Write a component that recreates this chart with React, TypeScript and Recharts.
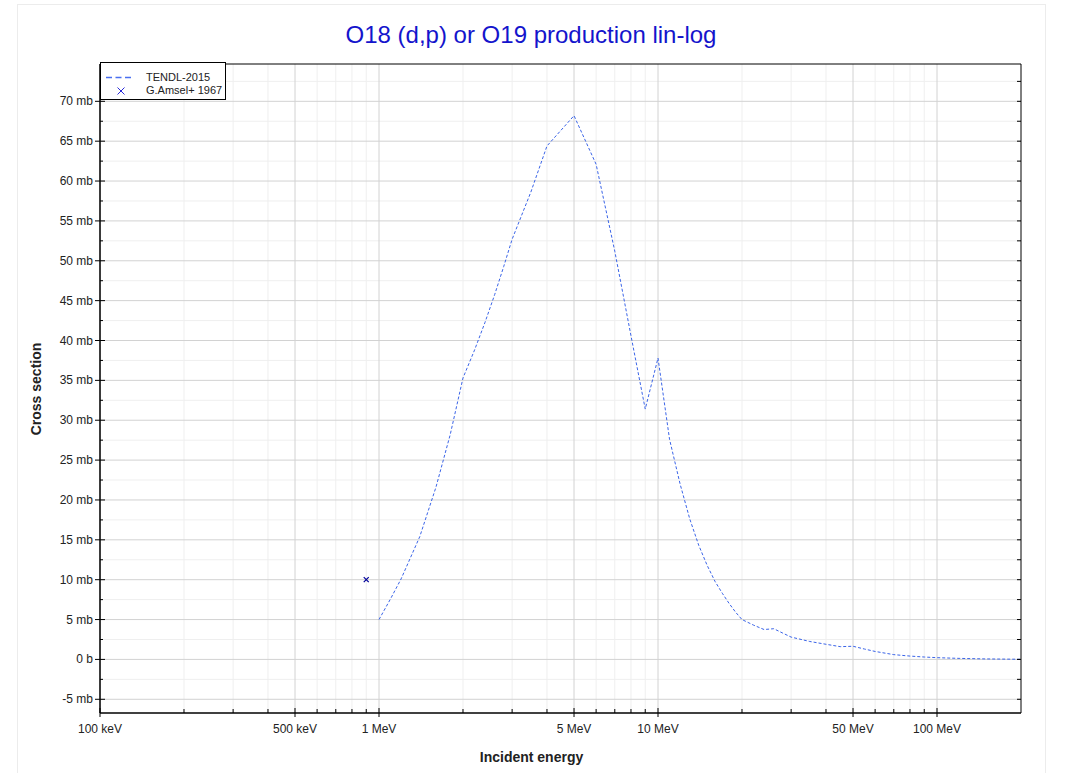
import React from 'react'
import {
  ComposedChart,
  Line,
  XAxis,
  YAxis,
  CartesianGrid,
} from 'recharts'

// TENDL-2015 evaluation, energy in MeV, cross section in mb
const tendlEnergy = [
  1, 1.1, 1.2, 1.4, 1.6, 1.8, 2, 2.2, 2.4, 2.6, 2.8, 3, 3.5, 4, 5, 6, 7, 8, 9, 10,
  11, 12, 13, 14, 15, 16, 17, 18, 19, 20, 22, 24, 26, 28, 30, 35, 40, 45, 50, 55,
  60, 70, 80, 90, 100, 120, 150, 200,
]
const tendlXs = [
  5.0, 7.6, 10.1, 15.4, 21.6, 28.2, 35.3, 38.8, 42.3, 45.8, 49.3, 52.7, 58.6, 64.4, 68.2, 62.1, 51.2, 40.6, 31.4, 37.8,
  27.6, 22.0, 17.6, 14.3, 11.8, 9.8, 8.3, 7.0, 5.9, 5.0, 4.3, 3.75, 3.85, 3.3, 2.8, 2.25, 1.9, 1.6, 1.65, 1.3,
  1.0, 0.6, 0.42, 0.3, 0.22, 0.13, 0.06, 0.02,
]

// G.Amsel+ 1967 measurement
const amselEnergy = [0.9]
const amselXs = [10]

// axis ticks
const xMajor = [0.1, 0.5, 1, 5, 10, 50, 100]
const xMajorLabels = ['100 keV', '500 keV', '1 MeV', '5 MeV', '10 MeV', '50 MeV', '100 MeV']
const xMinor = [0.2, 0.3, 0.4, 0.6, 0.7, 0.8, 0.9, 2, 3, 4, 6, 7, 8, 9, 20, 30, 40, 60, 70, 80, 90]
const yMajor = [-5, 0, 5, 10, 15, 20, 25, 30, 35, 40, 45, 50, 55, 60, 65, 70]
const yMinor = [-2.5, 2.5, 7.5, 12.5, 17.5, 22.5, 27.5, 32.5, 37.5, 42.5, 47.5, 52.5, 57.5, 62.5, 67.5, 72.5]

const xDomain = [0.1, 200]
const yDomain = [-6.72, 74.68]

const tendl = tendlEnergy.map((e, i) => ({ e, xs: tendlXs[i] }))
const amsel = amselEnergy.map((e, i) => ({ e, xs: amselXs[i] }))

const xTicks = [...xMajor, ...xMinor].sort((a, b) => a - b)
const yTicks = [...yMajor, ...yMinor].sort((a, b) => a - b)

const FONT = '"Liberation Sans", Arial, sans-serif'
const TEXT = '#222'

function yLabel(v: number) {
  if (v === 0) return '0 b'
  return `${v} mb`
}

const BottomTick = (props: any) => {
  const { x, y, payload } = props
  const idx = xMajor.indexOf(payload.value)
  const major = idx >= 0
  return (
    <g>
      <line x1={x} x2={x} y1={y - (major ? 5 : 4)} y2={major ? y + 4 : y} stroke="#000" />
      {major && (
        <text x={x} y={y + 20} textAnchor="middle" fontSize={12} fill={TEXT} fontFamily={FONT}>
          {xMajorLabels[idx]}
        </text>
      )}
    </g>
  )
}

const TopTick = (props: any) => {
  const { x, y } = props
  return <line x1={x} x2={x} y1={y} y2={y + 5} stroke="#000" />
}

const LeftTick = (props: any) => {
  const { x, y, payload } = props
  const major = yMajor.includes(payload.value)
  return (
    <g>
      <line x1={major ? x - 5 : x} x2={major ? x + 5 : x + 3} y1={y} y2={y} stroke="#000" />
      {major && (
        <text x={x - 7} y={y + 4} textAnchor="end" fontSize={12} fill={TEXT} fontFamily={FONT}>
          {yLabel(payload.value)}
        </text>
      )}
    </g>
  )
}

const RightTick = (props: any) => {
  const { x, y } = props
  return <line x1={x - 4} x2={x} y1={y} y2={y} stroke="#000" />
}

const Cross = (props: any) => {
  const { cx, cy } = props
  if (cx == null || cy == null) return null
  const s = 2.5
  return (
    <path
      d={`M${cx - s},${cy - s}L${cx + s},${cy + s}M${cx - s},${cy + s}L${cx + s},${cy - s}`}
      stroke="#000099"
      strokeWidth={1.2}
      fill="none"
    />
  )
}

function ChartLegend() {
  return (
    <div
      style={{
        position: 'absolute',
        left: 100,
        top: 62,
        width: 126,
        height: 38,
        border: '1px solid #000',
        background: '#fff',
        boxSizing: 'border-box',
      }}
    >
      <svg width={126} height={38} style={{ position: 'absolute', left: 0, top: 0 }}>
        <line x1={5} x2={32} y1={14.5} y2={14.5} stroke="#4a6ff0" strokeWidth={1.3} strokeDasharray="6 3.5" />
        <path d="M16.5,24.5L23.5,31.5M16.5,31.5L23.5,24.5" stroke="#2a2ad8" strokeWidth={1} />
        <text x={45} y={18} fontSize={11} fill={TEXT} fontFamily={FONT}>TENDL-2015</text>
        <text x={45} y={30.5} fontSize={11} fill={TEXT} fontFamily={FONT}>G.Amsel+ 1967</text>
      </svg>
    </div>
  )
}

export default function App() {
  return (
    <div
      style={{
        position: 'absolute',
        left: 0,
        top: 0,
        width: 1069,
        height: 773,
        fontFamily: FONT,
        background: '#fff',
        overflow: 'hidden',
      }}
    >
      <div
        style={{
          position: 'absolute',
          left: 17,
          top: 4,
          width: 1027,
          height: 800,
          border: '1px solid #ececec',
        }}
      />
      <div
        style={{
          position: 'absolute',
          left: 0,
          width: 1062,
          top: 21,
          textAlign: 'center',
          fontSize: 24,
          color: '#1414cc',
        }}
      >
        O18 (d,p) or O19 production lin-log
      </div>
      <div
        style={{
          position: 'absolute',
          left: 0,
          width: 1063,
          top: 749,
          textAlign: 'center',
          fontSize: 14,
          fontWeight: 'bold',
          color: TEXT,
        }}
      >
        Incident energy
      </div>
      <div
        style={{
          position: 'absolute',
          left: 36,
          top: 389,
          transform: 'translate(-50%, -50%) rotate(-90deg)',
          fontSize: 14,
          fontWeight: 'bold',
          color: TEXT,
          whiteSpace: 'nowrap',
        }}
      >
        Cross section
      </div>

      <div style={{ position: 'absolute', left: 0, top: 0 }}>
        <ComposedChart
          width={1069}
          height={773}
          margin={{ top: 63, right: 47, bottom: 59, left: 99 }}
        >
          <CartesianGrid
            stroke="#efefef"
            verticalValues={xMinor}
            horizontalValues={yMinor}
          />
          <CartesianGrid
            stroke="#d2d2d2"
            verticalValues={xMajor}
            horizontalValues={yMajor}
          />
          <XAxis
            dataKey="e"
            type="number"
            scale="log"
            domain={xDomain}
            allowDataOverflow
            ticks={xTicks}
            interval={0}
            height={1}
            tickSize={0}
            tickMargin={0}
            tick={<BottomTick />}
            axisLine={{ stroke: '#000', strokeWidth: 1.5 }}
          />
          <XAxis
            xAxisId="top"
            orientation="top"
            type="number"
            scale="log"
            domain={xDomain}
            allowDataOverflow
            ticks={xTicks}
            interval={0}
            height={1}
            tickSize={0}
            tickMargin={0}
            tick={<TopTick />}
            axisLine={{ stroke: '#000' }}
          />
          <YAxis
            type="number"
            domain={yDomain}
            allowDataOverflow
            ticks={yTicks}
            interval={0}
            width={1}
            tickSize={0}
            tickMargin={0}
            tick={<LeftTick />}
            axisLine={{ stroke: '#000', strokeWidth: 1.5 }}
          />
          <YAxis
            yAxisId="right"
            orientation="right"
            type="number"
            domain={yDomain}
            allowDataOverflow
            ticks={yTicks}
            interval={0}
            width={1}
            tickSize={0}
            tickMargin={0}
            tick={<RightTick />}
            axisLine={{ stroke: '#000' }}
          />
          <Line
            data={tendl}
            dataKey="xs"
            type="linear"
            stroke="#3a64e8"
            strokeWidth={1}
            strokeDasharray="3 2"
            dot={false}
            activeDot={false}
            isAnimationActive={false}
          />
          <Line
            data={amsel}
            dataKey="xs"
            stroke="none"
            dot={<Cross />}
            activeDot={false}
            isAnimationActive={false}
          />
        </ComposedChart>
      </div>
      <ChartLegend />
    </div>
  )
}
